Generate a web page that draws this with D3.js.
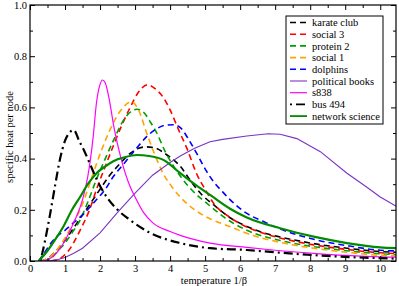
<!DOCTYPE html>
<html>
<head>
<meta charset="utf-8">
<script src="https://cdn.jsdelivr.net/npm/d3@7"></script>
<style>
  body { margin: 0; background: #fff; }
  svg text { font-family: "Liberation Serif", "Times New Roman", "DejaVu Serif", serif; }
  .domain { display: none; }
</style>
</head>
<body>
<svg width="399" height="286"></svg>
<script>
// tick values
const xMajor = [0, 1, 2, 3, 4, 5, 6, 7, 8, 9, 10];
const xMinor = [0.5, 1.5, 2.5, 3.5, 4.5, 5.5, 6.5, 7.5, 8.5, 9.5];
const yMajor = [0, 0.2, 0.4, 0.6, 0.8, 1.0];
const yMinor = [0.1, 0.3, 0.5, 0.7, 0.9];

// series, [temperature, specific heat]
const karateClub = [[0.3,0],[0.5,0.01],[0.75,0.04],[1.0,0.08],[1.25,0.13],[1.5,0.18],[1.75,0.23],[2.0,0.28],[2.25,0.33],[2.5,0.37],[2.86,0.42],[3.1,0.44],[3.33,0.446],[3.6,0.44],[3.85,0.42],[4.05,0.4],[4.29,0.37],[4.6,0.31],[4.9,0.26],[5.24,0.22],[5.7,0.17],[6.19,0.135],[6.67,0.11],[7.14,0.094],[8.1,0.068],[9.05,0.05],[10,0.037],[10.5,0.034]];
const social3 = [[0.6,0],[0.86,0.01],[1.1,0.04],[1.43,0.12],[1.7,0.2],[1.9,0.28],[2.15,0.37],[2.38,0.45],[2.62,0.53],[2.86,0.6],[3.1,0.66],[3.35,0.688],[3.6,0.67],[3.8,0.64],[4,0.59],[4.25,0.51],[4.48,0.44],[4.76,0.34],[5.0,0.28],[5.24,0.226],[5.71,0.17],[6.19,0.133],[6.67,0.108],[7.14,0.09],[8.1,0.063],[9.05,0.045],[10,0.032],[10.5,0.029]];
const protein2 = [[0.4,0],[0.6,0.01],[0.8,0.04],[1.0,0.07],[1.2,0.11],[1.43,0.16],[1.65,0.23],[1.9,0.32],[2.15,0.4],[2.38,0.47],[2.67,0.55],[2.85,0.58],[3.05,0.593],[3.25,0.58],[3.45,0.54],[3.62,0.5],[3.85,0.43],[4.1,0.37],[4.3,0.33],[4.6,0.28],[5.14,0.215],[5.5,0.175],[6.19,0.12],[7.14,0.08],[8.1,0.056],[9.05,0.04],[10,0.028],[10.5,0.025]];
const social1 = [[0.3,0],[0.5,0.01],[0.75,0.04],[1.0,0.09],[1.2,0.14],[1.43,0.2],[1.65,0.28],[1.9,0.38],[2.15,0.47],[2.38,0.54],[2.6,0.59],[2.9,0.622],[3.1,0.59],[3.33,0.5],[3.55,0.42],[3.81,0.34],[4.05,0.29],[4.29,0.25],[4.7,0.2],[5.14,0.165],[5.7,0.135],[6.19,0.108],[7.14,0.073],[8.1,0.05],[9.05,0.034],[10,0.022],[10.5,0.02]];
const dolphins = [[0.25,0],[0.4,0.03],[0.6,0.07],[0.8,0.1],[1.0,0.12],[1.25,0.15],[1.5,0.18],[1.9,0.24],[2.15,0.28],[2.38,0.33],[2.62,0.37],[2.86,0.41],[3.1,0.45],[3.33,0.486],[3.6,0.515],[3.85,0.53],[4.1,0.532],[4.3,0.52],[4.55,0.47],[4.76,0.42],[5.0,0.36],[5.24,0.31],[5.5,0.27],[5.71,0.24],[6.19,0.186],[6.67,0.154],[7.14,0.125],[8.1,0.085],[9.05,0.06],[10,0.042],[10.5,0.039]];
const politicalBooks = [[0.5,0],[0.75,0.004],[1.0,0.014],[1.25,0.03],[1.5,0.05],[2.0,0.11],[2.5,0.19],[3.0,0.265],[3.5,0.335],[4.0,0.385],[4.29,0.41],[4.7,0.44],[5.14,0.466],[5.5,0.475],[6.19,0.488],[6.8,0.497],[7.14,0.495],[7.62,0.478],[8.29,0.427],[9.05,0.343],[9.6,0.29],[10,0.25],[10.5,0.21]];
const s838 = [[0.3,0],[0.5,0.005],[0.75,0.03],[1.0,0.08],[1.25,0.15],[1.5,0.24],[1.65,0.33],[1.8,0.48],[1.9,0.62],[2.0,0.69],[2.07,0.707],[2.15,0.695],[2.25,0.64],[2.4,0.52],[2.6,0.4],[2.86,0.29],[3.0,0.25],[3.24,0.19],[3.5,0.15],[4,0.115],[4.29,0.1],[5.14,0.07],[6.19,0.053],[7,0.042],[8.1,0.03],[9,0.022],[10,0.016],[10.5,0.015]];
const bus494 = [[0.3,0],[0.43,0.08],[0.57,0.18],[0.71,0.29],[0.86,0.4],[1.0,0.47],[1.12,0.5],[1.25,0.512],[1.4,0.47],[1.55,0.43],[1.71,0.38],[1.9,0.32],[2.19,0.25],[2.5,0.2],[2.86,0.16],[3.43,0.11],[4.29,0.07],[5.14,0.05],[6.19,0.043],[7,0.034],[8.1,0.023],[9,0.016],[10,0.011],[10.5,0.009]];
const networkScience = [[0.25,0],[0.5,0.04],[0.75,0.09],[0.95,0.134],[1.2,0.2],[1.43,0.25],[1.65,0.3],[1.9,0.343],[2.15,0.37],[2.38,0.39],[2.7,0.405],[3.05,0.414],[3.4,0.41],[3.81,0.395],[4.29,0.343],[4.7,0.3],[5.14,0.258],[5.7,0.205],[6.19,0.17],[7.14,0.128],[8.1,0.095],[9.05,0.07],[10,0.053],[10.5,0.05]];

const names = ["karate club", "social 3", "protein 2", "social 1", "dolphins", "political books", "s838", "bus 494", "network science"];
const values = [karateClub, social3, protein2, social1, dolphins, politicalBooks, s838, bus494, networkScience];
const colors = ["#000000", "#ff0000", "#00a000", "#ffa500", "#0000ff", "#7a33c4", "#ff00ff", "#000000", "#008b00"];
const dashes = ["6,4", "6,4", "6,4", "6,4", "6,4", null, null, "2,4,9,4", null];
const widths = [1.6, 1.6, 1.6, 1.6, 1.6, 1.1, 1.2, 2.2, 2.2];

const margin = {left: 30, top: 5, right: 396, bottom: 261};

var svg = d3.select("svg")

var x = d3.scaleLinear().domain([0, 10.45]).range([margin.left, margin.right])
var y = d3.scaleLinear().domain([0, 1]).range([margin.bottom, margin.top])

svg.append("defs").append("clipPath").attr("id", "clip")
    .append("rect")
    .attr("x", margin.left).attr("y", margin.top)
    .attr("width", margin.right - margin.left).attr("height", margin.bottom - margin.top)

var smooth = d3.line().x(d => x(d[0])).y(d => y(d[1])).curve(d3.curveMonotoneX)
var straight = d3.line().x(d => x(d[0])).y(d => y(d[1]))

// curves (political books data is coarse, drawn with straight segments)
svg.append("g")
    .attr("clip-path", "url(#clip)")
    .selectAll("path")
    .data(values)
    .join("path")
    .attr("d", (d, i) => i == 5 ? straight(d) : smooth(d))
    .attr("fill", "none")
    .attr("stroke", (d, i) => colors[i])
    .attr("stroke-width", (d, i) => widths[i])
    .attr("stroke-dasharray", (d, i) => dashes[i])

// axes, ticks pointing inward on all four sides
function addAxis(axis, tx, ty) {
    svg.append("g")
        .attr("transform", "translate(" + tx + "," + ty + ")")
        .call(axis)
        .attr("font-family", null)
        .call(g => g.selectAll("line").attr("stroke", "black"))
        .call(g => g.selectAll("text").attr("fill", "black").attr("font-size", 10.5))
}
addAxis(d3.axisBottom(x).tickValues(xMajor).tickSize(-5).tickPadding(4).tickFormat(d3.format("d")), 0, margin.bottom)
addAxis(d3.axisBottom(x).tickValues(xMinor).tickSize(-3).tickFormat(""), 0, margin.bottom)
addAxis(d3.axisTop(x).tickValues(xMajor).tickSize(-5).tickFormat(""), 0, margin.top)
addAxis(d3.axisTop(x).tickValues(xMinor).tickSize(-3).tickFormat(""), 0, margin.top)
addAxis(d3.axisLeft(y).tickValues(yMajor).tickSize(-5).tickPadding(3).tickFormat(d3.format(".1f")), margin.left, 0)
addAxis(d3.axisLeft(y).tickValues(yMinor).tickSize(-3).tickFormat(""), margin.left, 0)
addAxis(d3.axisRight(y).tickValues(yMajor).tickSize(-5).tickFormat(""), margin.right, 0)
addAxis(d3.axisRight(y).tickValues(yMinor).tickSize(-3).tickFormat(""), margin.right, 0)

svg.append("rect")
    .attr("x", margin.left).attr("y", margin.top)
    .attr("width", margin.right - margin.left).attr("height", margin.bottom - margin.top)
    .attr("fill", "none").attr("stroke", "black").attr("stroke-width", 1.2)

// axis titles
svg.append("text")
    .attr("x", 214).attr("y", 284)
    .attr("text-anchor", "middle").attr("font-size", 10.5)
    .text("temperature 1/β")
svg.append("text")
    .attr("transform", "translate(13,137) rotate(-90)")
    .attr("text-anchor", "middle").attr("font-size", 10.5)
    .text("specific heat per node")

// legend
var legend = svg.append("g")
legend.append("rect")
    .attr("x", 286).attr("y", 16).attr("width", 97).attr("height", 108)
    .attr("fill", "white").attr("stroke", "black").attr("stroke-width", 1)

var rows = legend.selectAll(".row")
    .data(names)
    .join("g")
    .attr("class", "row")
    .attr("transform", (d, i) => "translate(0," + (22.5 + i * 11.7) + ")")
rows.append("line")
    .attr("x1", 290).attr("x2", 307)
    .attr("stroke", (d, i) => colors[i])
    .attr("stroke-width", (d, i) => Math.min(widths[i], 1.8))
    .attr("stroke-dasharray", (d, i) => dashes[i])
rows.append("text")
    .attr("x", 312).attr("dy", "0.35em")
    .attr("font-size", 10.5)
    .text(d => d)
</script>
</body>
</html>
